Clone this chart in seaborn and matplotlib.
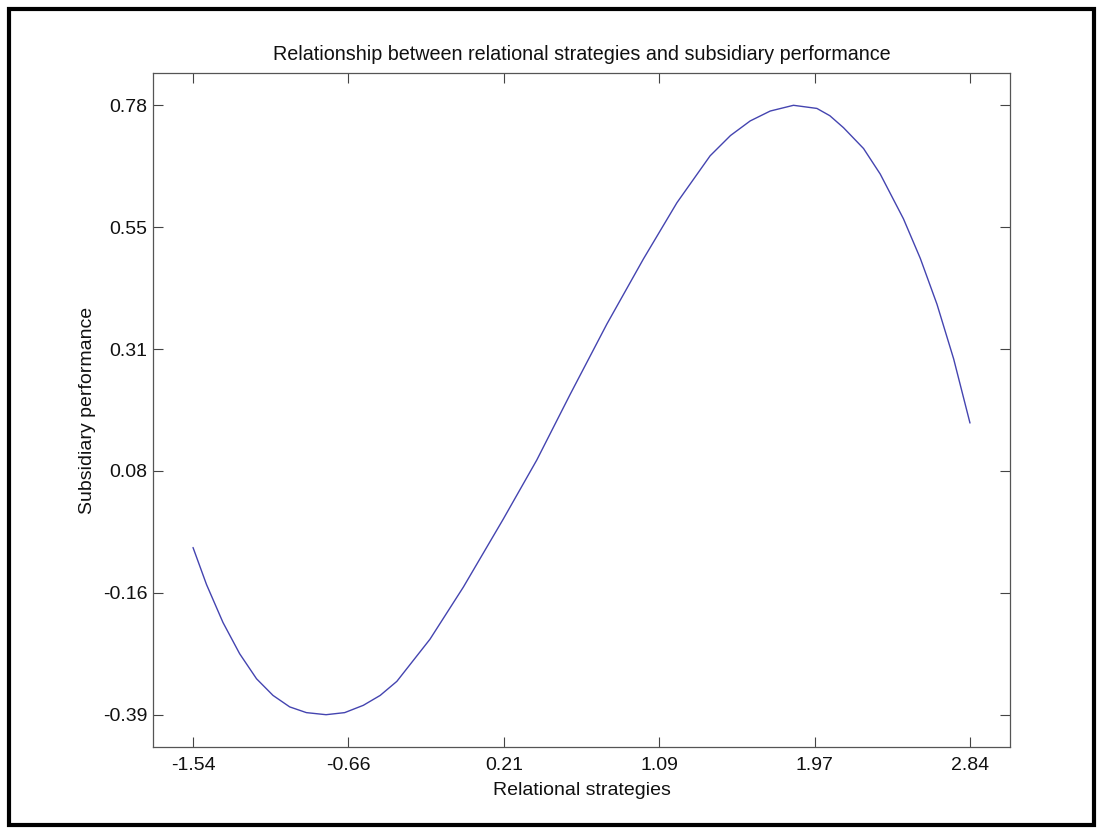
import numpy as np
import matplotlib
matplotlib.use("Agg")
import matplotlib.pyplot as plt
from matplotlib.patches import Rectangle
import seaborn as sns

# Relational strategies (x) vs subsidiary performance (y), points along the fitted curve
strategy = [-1.540, -1.464, -1.371, -1.277, -1.182, -1.089, -0.995, -0.901,
            -0.790, -0.685, -0.580, -0.485, -0.391, -0.204, -0.016, 0.208,
            0.398, 0.586, 0.793, 0.999, 1.188, 1.375, 1.490, 1.601, 1.714,
            1.845, 1.977, 2.050, 2.127, 2.240, 2.334, 2.465, 2.560, 2.654,
            2.748, 2.840]
performance = [-0.069, -0.140, -0.213, -0.273, -0.321, -0.353, -0.375, -0.386,
               -0.390, -0.386, -0.372, -0.353, -0.326, -0.245, -0.145, -0.015,
               0.099, 0.225, 0.360, 0.485, 0.593, 0.683, 0.722, 0.750, 0.769,
               0.780, 0.774, 0.760, 0.737, 0.697, 0.648, 0.562, 0.486, 0.398,
               0.293, 0.170]

x_tick_labels = ["-1.54", "-0.66", "0.21", "1.09", "1.97", "2.84"]
y_tick_labels = ["-0.39", "-0.16", "0.08", "0.31", "0.55", "0.78"]

title = "Relationship between relational strategies and subsidiary performance"
x_label = "Relational strategies"
y_label = "Subsidiary performance"

sns.set_style("white")
plt.rcParams["font.family"] = ["Liberation Sans", "DejaVu Sans"]
plt.rcParams["axes.unicode_minus"] = False
plt.rcParams["lines.solid_joinstyle"] = "round"

W, H = 1103, 834
fig = plt.figure(figsize=(W / 100, H / 100), dpi=100)
ax = fig.add_axes([153 / W, 1 - 747 / H, (1010 - 153) / W, (747 - 73) / H])

sns.lineplot(x=strategy, y=performance, ax=ax, estimator=None, sort=False,
             color="#4444b0", linewidth=1.0)

# six evenly spaced ticks spanning the data range on each axis
xmin, xmax = min(strategy), max(strategy)
ymin, ymax = min(performance), max(performance)
xticks = np.linspace(xmin, xmax, len(x_tick_labels))
yticks = np.linspace(ymin, ymax, len(y_tick_labels))
ax.set_xticks(xticks, x_tick_labels)
ax.set_yticks(yticks, y_tick_labels)

xpad = (xmax - xmin) * 0.0515
ypad = (ymax - ymin) * 0.053
ax.set_xlim(xmin - xpad, xmax + xpad)
ax.set_ylim(ymin - ypad, ymax + ypad)

fs = 14
ax.tick_params(axis="both", which="major", direction="in", length=7,
               width=0.8, color="#444444", labelsize=fs, labelcolor="#111111",
               top=True, right=True, bottom=True, left=True)
ax.tick_params(axis="x", pad=7)
ax.tick_params(axis="y", pad=4)
for s in ax.spines.values():
    s.set_visible(True)
    s.set_color("#555555")
    s.set_linewidth(0.9)

ax.set_title(title, fontsize=14.2, color="#111111", pad=9)
ax.set_xlabel(x_label, fontsize=fs, color="#111111", labelpad=6)
ax.set_ylabel(y_label, fontsize=fs, color="#111111", labelpad=5)

# heavy black frame around the whole figure
fig.patches.append(Rectangle((9 / W, 9 / H), 1 - 18 / W, 1 - 18 / H,
                             transform=fig.transFigure, fill=False,
                             edgecolor="black", linewidth=3.0))

fig.savefig("out.png", dpi=100, facecolor="white")
